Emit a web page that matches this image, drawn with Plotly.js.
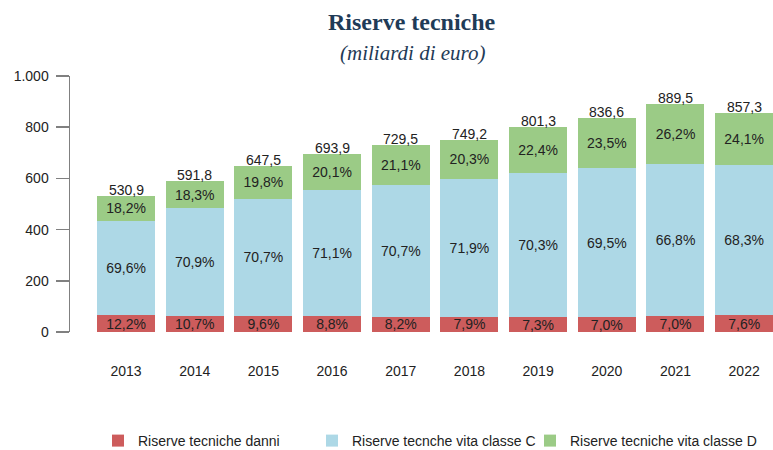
<!DOCTYPE html>
<html>
<head>
<meta charset="utf-8">
<script src="https://cdn.plot.ly/plotly-3.0.1.min.js"></script>
<style>html,body{margin:0;padding:0;background:#fff;}#chart{width:773px;height:450px;}</style>
</head>
<body>
<div id="chart"></div>
<script>
var years = ['2013','2014','2015','2016','2017','2018','2019','2020','2021','2022'];
var totals = [530.9, 591.8, 647.5, 693.9, 729.5, 749.2, 801.3, 836.6, 889.5, 857.3];
var danni = [64.8, 63.3, 62.2, 61.1, 59.8, 59.2, 58.5, 58.6, 62.3, 65.2];
var vitaC = [369.5, 419.6, 457.8, 493.4, 515.8, 538.7, 563.3, 581.4, 594.2, 585.5];
var vitaD = [96.6, 108.3, 128.2, 139.5, 153.9, 152.1, 179.5, 196.6, 233.1, 206.6];
var pctDanni = ['12,2%','10,7%','9,6%','8,8%','8,2%','7,9%','7,3%','7,0%','7,0%','7,6%'];
var pctC = ['69,6%','70,9%','70,7%','71,1%','70,7%','71,9%','70,3%','69,5%','66,8%','68,3%'];
var pctD = ['18,2%','18,3%','19,8%','20,1%','21,1%','20,3%','22,4%','23,5%','26,2%','24,1%'];
var yTicks = [0, 200, 400, 600, 800, 1000];
var yTickText = ['0','200','400','600','800','1.000'];
var totalText = ['530,9','591,8','647,5','693,9','729,5','749,2','801,3','836,6','889,5','857,3'];

var txtFont = {family: 'Liberation Sans, Arial, sans-serif', size: 14, color: '#222'};
function barTrace(name, y, text, color, leg) {
  return {
    type: 'bar', name: name, x: years, y: y, text: text,
    textposition: 'inside', insidetextanchor: 'middle',
    textfont: txtFont, marker: {color: color, line: {width: 0}},
    hoverinfo: 'none', legend: leg
  };
}
var data = [
  barTrace('Riserve tecniche danni', danni, pctDanni, '#CD5C5C', 'legend'),
  barTrace('Riserve tecnche vita classe C', vitaC, pctC, '#ADD8E6', 'legend2'),
  barTrace('Riserve tecniche vita classe D', vitaD, pctD, '#9BCB86', 'legend3')
];

var annotations = years.map(function (yr, i) {
  return {x: i, y: totals[i], xref: 'x', yref: 'y', text: totalText[i],
    showarrow: false, yanchor: 'bottom', yshift: -4, font: txtFont};
});
annotations.push({xref: 'paper', yref: 'paper', x: 0.4865, y: 1.211, text: '<b>Riserve tecniche</b>',
  showarrow: false, xanchor: 'center', yanchor: 'middle',
  font: {family: 'Liberation Serif, Times New Roman, serif', size: 24, color: '#1F3B57'}});
annotations.push({xref: 'paper', yref: 'paper', x: 0.4865, y: 1.09, text: '<i>(miliardi di euro)</i>',
  showarrow: false, xanchor: 'center', yanchor: 'middle',
  font: {family: 'Liberation Serif, Times New Roman, serif', size: 21, color: '#1F3B57'}});

function leg(xpx) {
  return {orientation: 'h', xref: 'container', yref: 'container', x: xpx / 773, y: 9 / 450,
    xanchor: 'left', yanchor: 'middle', font: txtFont, bgcolor: 'rgba(0,0,0,0)'};
}

var layout = {
  width: 773, height: 450,
  margin: {l: 70, r: 0, t: 76, b: 118, pad: 0},
  paper_bgcolor: '#fff', plot_bgcolor: '#fff',
  barmode: 'stack', bargap: 0.156,
  separators: ',.',
  uniformtext: {minsize: 14, mode: 'show'},
  showlegend: true,
  legend: leg(98), legend2: leg(312), legend3: leg(530),
  xaxis: {type: 'category', range: [-0.816, 9.42], showline: false, ticks: '', showgrid: false,
    zeroline: false, tickfont: txtFont, ticklabelstandoff: 29, fixedrange: true},
  yaxis: {range: [0, 1000], tickvals: yTicks, ticktext: yTickText, showline: true, linecolor: '#808080',
    linewidth: 1.5, ticks: 'outside', ticklen: 13, tickcolor: '#808080', tickwidth: 1.5, showgrid: false,
    zeroline: false, tickfont: txtFont, ticklabelstandoff: 4, fixedrange: true},
  annotations: annotations
};
Plotly.newPlot('chart', data, layout, {displayModeBar: false, staticPlot: true});
</script>
</body>
</html>
